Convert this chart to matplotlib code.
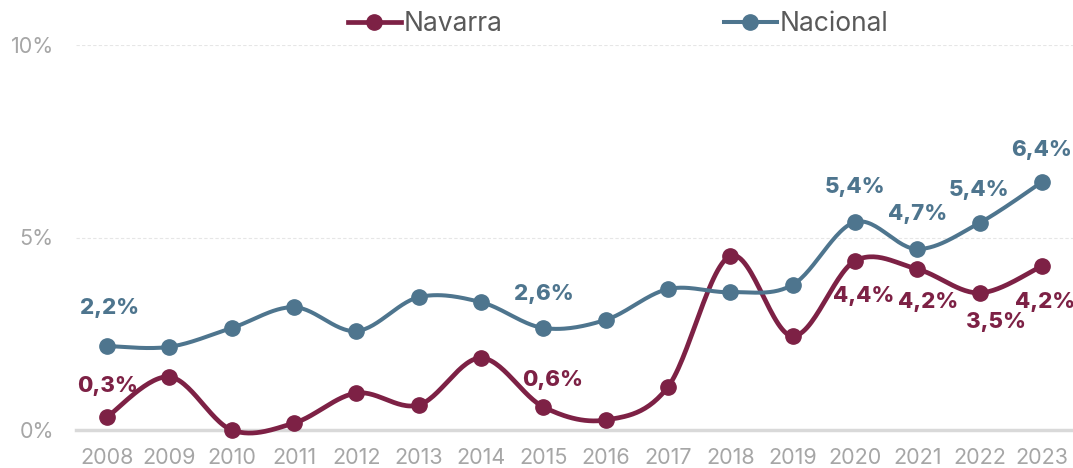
import numpy as np
import matplotlib
matplotlib.use("Agg")
import matplotlib.pyplot as plt
from matplotlib.lines import Line2D

plt.rcParams['font.family'] = ['Inter', 'DejaVu Sans']

years = [str(y) for y in range(2008, 2024)]
navarra = [0.34, 1.38, 0.0, 0.18, 0.96, 0.65, 1.87, 0.6, 0.26, 1.12, 4.52, 2.44, 4.39, 4.18, 3.56, 4.26]
nacional = [2.18, 2.16, 2.65, 3.19, 2.57, 3.45, 3.32, 2.65, 2.86, 3.66, 3.58, 3.77, 5.4, 4.7, 5.38, 6.44]

# labels: (index, text, pixel offset x, pixel offset y)
navarra_labels = [(0, "0,3%", 0, 31), (7, "0,6%", 9, 27), (12, "4,4%", 9, -35),
                  (13, "4,2%", 11, -33), (14, "3,5%", 16, -29), (15, "4,2%", 3, -36)]
nacional_labels = [(0, "2,2%", 2, 38), (7, "2,6%", 1, 34), (12, "5,4%", 0, 35),
                   (13, "4,7%", 0, 35), (14, "5,4%", 0, 33), (15, "6,4%", 0, 32)]

C_NAV = "#7D2145"
C_NAC = "#4E758E"


def smooth(xs, ys, n=30, t=0.5):
    xs = np.asarray(xs, float); ys = np.asarray(ys, float)
    P = np.column_stack([xs, ys])
    P = np.vstack([P[0], P, P[-1]])
    out = []
    for i in range(1, len(P) - 2):
        p0, p1, p2, p3 = P[i - 1], P[i], P[i + 1], P[i + 2]
        m1 = (p2 - p0) * t
        m2 = (p3 - p1) * t
        s = np.linspace(0, 1, n, endpoint=False)[:, None]
        h00 = 2 * s**3 - 3 * s**2 + 1
        h10 = s**3 - 2 * s**2 + s
        h01 = -2 * s**3 + 3 * s**2
        h11 = s**3 - s**2
        out.append(h00 * p1 + h10 * m1 + h01 * p2 + h11 * m2)
    out.append(P[-2][None, :])
    out = np.vstack(out)
    return out[:, 0], out[:, 1]


fig = plt.figure(figsize=(10.73, 4.68), dpi=100)
ax = fig.add_axes([76 / 1073, 1 - 430 / 468, 1 - 76 / 1073, (430 - 45) / 468])
x = np.arange(len(years))

for vals, col, lw in [(navarra, C_NAV, 3.4), (nacional, C_NAC, 2.9)]:
    sx, sy = smooth(x, vals)
    ax.plot(sx, sy, color=col, lw=lw, solid_capstyle='round', zorder=3, clip_on=False)
    ax.plot(x, vals, 'o', color=col, ms=11, zorder=4, clip_on=False)

for idx, txt, dx, dy in navarra_labels:
    ax.annotate(txt, (x[idx], navarra[idx]), xytext=(dx * 0.72, dy * 0.72), textcoords='offset points',
                ha='center', va='center', fontsize=16, fontweight=800, color=C_NAV, zorder=5)
for idx, txt, dx, dy in nacional_labels:
    ax.annotate(txt, (x[idx], nacional[idx]), xytext=(dx * 0.72, dy * 0.72), textcoords='offset points',
                ha='center', va='center', fontsize=16, fontweight=800, color=C_NAC, zorder=5)

ax.set_xlim(-0.5, len(years) - 0.5)
ax.set_ylim(0, 10)
ax.set_yticks([0, 5, 10])
ax.set_yticklabels(["0%", "5%", "10%"])
ax.set_xticks(x)
ax.set_xticklabels(years)
ax.tick_params(axis='both', length=0, labelsize=15.5, colors='#A6A6A6')
ax.tick_params(axis='x', pad=13)
ax.tick_params(axis='y', pad=16)
for s in ax.spines.values():
    s.set_visible(False)
for yv in [5, 10]:
    ax.axhline(yv, color='#E6E6E6', lw=0.8, ls=(0, (3, 2)), zorder=1)
ax.axhline(0, color='#D9D9D9', lw=2.5, zorder=2, clip_on=False)

handles = [Line2D([], [], color=C_NAV, lw=3.4, marker='o', ms=11),
           Line2D([], [], color=C_NAC, lw=2.9, marker='o', ms=11)]
fig.legend(handles, ["Navarra", "Nacional"], loc='center', bbox_to_anchor=(0.576, 0.949),
           ncol=2, frameon=False, fontsize=19, handlelength=2.0, handletextpad=0.1,
           columnspacing=8.4, labelcolor='#595959')

fig.savefig("out.png", dpi=100)
